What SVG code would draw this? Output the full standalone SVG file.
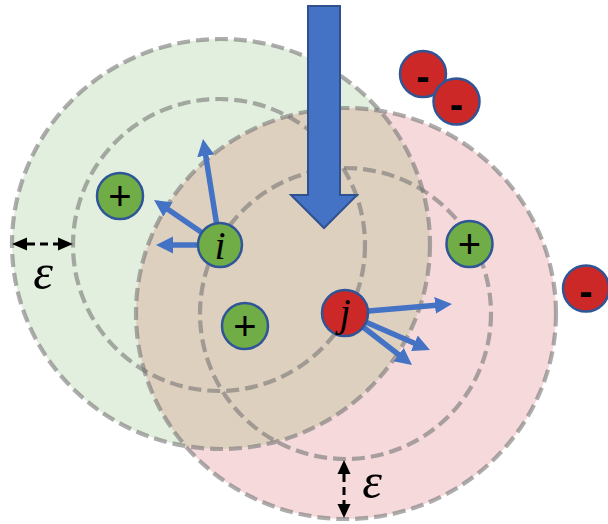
<svg xmlns="http://www.w3.org/2000/svg" width="608" height="524" viewBox="0 0 608 524">
  <style>
    .ring { fill: none; stroke: #767676; stroke-opacity: 0.6; stroke-width: 4.2; stroke-dasharray: 13 6; }
    .pos { fill: #70AD47; stroke: #2F5597; stroke-width: 2.5; }
    .neg { fill: #CC2828; stroke: #2F5597; stroke-width: 2.5; }
    .sign { font-family: "Liberation Sans", Arial, sans-serif; font-size: 40px; fill: #000; text-anchor: middle; }
    .minus { font-family: "Liberation Sans", Arial, sans-serif; font-size: 40px; font-weight: bold; fill: #000; text-anchor: middle; }
    .lbl { font-family: "Liberation Serif", "Times New Roman", serif; font-style: italic; font-size: 40px; fill: #000; text-anchor: middle; }
    .eps { font-family: "Liberation Serif", "Times New Roman", serif; font-style: italic; font-size: 50px; fill: #000; text-anchor: middle; }
    .force { stroke: #4472C4; stroke-width: 5.5; fill: none; marker-end: url(#bh); }
    .dim { stroke: #000; stroke-width: 3; stroke-dasharray: 8 5; fill: none; }
  </style>
  <defs>
    <marker id="bh" markerUnits="userSpaceOnUse" markerWidth="18" markerHeight="18" refX="7" refY="8.5" orient="auto" viewBox="0 0 18 17">
      <path d="M0,0 L17,8.5 L0,17 z" fill="#4472C4"/>
    </marker>
    <clipPath id="redClip">
      <ellipse cx="346" cy="313.5" rx="210" ry="205.5"/>
    </clipPath>
  </defs>

  <g id="regions">
    <ellipse cx="221" cy="244" rx="209" ry="205" fill="#E3EFDE"/>
    <ellipse cx="346" cy="313.5" rx="210" ry="205.5" fill="#F6DADB"/>
    <ellipse cx="221" cy="244" rx="209" ry="205" fill="#DED0BF" clip-path="url(#redClip)"/>
    <circle cx="219" cy="245" r="146" class="ring"/>
    <ellipse cx="221" cy="244" rx="209" ry="205" class="ring"/>
    <circle cx="345.5" cy="313.5" r="145.5" class="ring"/>
    <ellipse cx="346" cy="313.5" rx="210" ry="205.5" class="ring"/>
  </g>

  <g id="field-arrow">
    <polygon points="308,6 340,6 340,195 357,195 324,228 291,195 308,195" fill="#4472C4" stroke="#2F528F" stroke-width="2"/>
  </g>

  <g id="connectors">
    <line class="force" x1="220" y1="245" x2="204.6" y2="148.9"/>
    <line class="force" x1="220" y1="245" x2="162.3" y2="205.6"/>
    <line class="force" x1="220" y1="245" x2="166" y2="245"/>
    <line class="force" x1="345" y1="313" x2="442" y2="304.8"/>
    <line class="force" x1="345" y1="313" x2="420.8" y2="346"/>
    <line class="force" x1="345" y1="313" x2="404.1" y2="358.9"/>
  </g>

  <g id="eps-left">
    <line class="dim" x1="27" y1="244" x2="58" y2="244"/>
    <polygon points="12,244 27,237.5 27,250.5" fill="#000"/>
    <polygon points="73,244 58,237.5 58,250.5" fill="#000"/>
    <text class="eps" x="43" y="289">ε</text>
  </g>

  <g id="eps-bottom">
    <line class="dim" x1="344" y1="474" x2="344" y2="504"/>
    <polygon points="344,460 337.5,474 350.5,474" fill="#000"/>
    <polygon points="344,518 337.5,504 350.5,504" fill="#000"/>
    <text class="eps" x="372" y="498">ε</text>
  </g>

  <g id="node-i">
    <circle cx="220" cy="245" r="22" class="pos"/>
    <text class="lbl" x="220" y="259">i</text>
  </g>
  <g id="node-j">
    <circle cx="345" cy="313" r="23" class="neg"/>
    <text class="lbl" x="345" y="326">j</text>
  </g>
  <g id="plus-1">
    <circle cx="120" cy="196" r="23" class="pos"/>
    <text class="sign" x="120" y="210">+</text>
  </g>
  <g id="plus-2">
    <circle cx="245" cy="326" r="23" class="pos"/>
    <text class="sign" x="245" y="340">+</text>
  </g>
  <g id="plus-3">
    <circle cx="469.5" cy="244" r="23" class="pos"/>
    <text class="sign" x="469.5" y="258">+</text>
  </g>
  <g id="minus-1">
    <circle cx="423" cy="74" r="23" class="neg"/>
    <text class="minus" x="423" y="90">-</text>
  </g>
  <g id="minus-2">
    <circle cx="456.5" cy="101.5" r="23" class="neg"/>
    <text class="minus" x="456.5" y="118">-</text>
  </g>
  <g id="minus-3">
    <circle cx="586" cy="288.5" r="23" class="neg"/>
    <text class="minus" x="586" y="305">-</text>
  </g>
</svg>
